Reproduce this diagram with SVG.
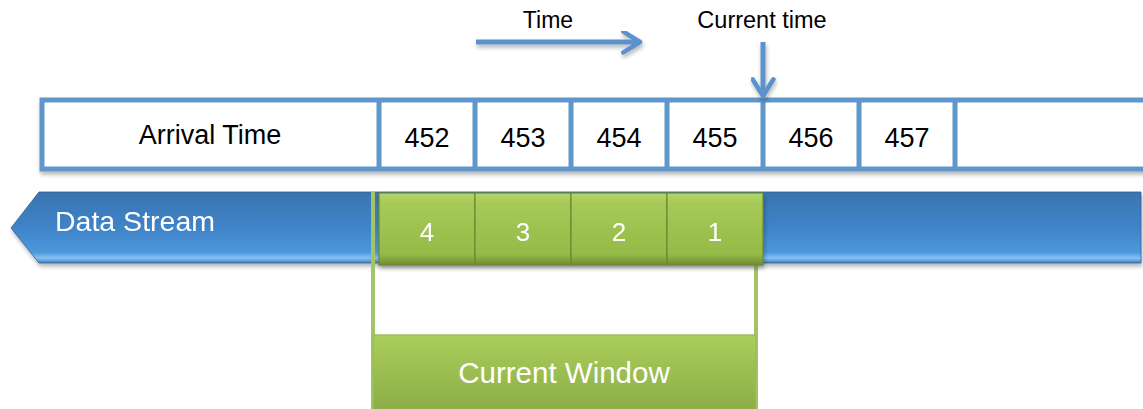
<svg xmlns="http://www.w3.org/2000/svg" width="1143" height="409" viewBox="0 0 1143 409">
<defs>
<linearGradient id="blue" x1="0" y1="0" x2="0" y2="1">
<stop offset="0" stop-color="#3a74b0"/>
<stop offset="0.5" stop-color="#3f84c8"/>
<stop offset="0.85" stop-color="#4e97da"/>
<stop offset="0.93" stop-color="#86c2f2"/>
<stop offset="1" stop-color="#3f7fbf"/>
</linearGradient>
<linearGradient id="green" x1="0" y1="0" x2="0" y2="1">
<stop offset="0" stop-color="#b5d66a"/>
<stop offset="0.15" stop-color="#a6c957"/>
<stop offset="0.85" stop-color="#96ba48"/>
<stop offset="1" stop-color="#6f8c32"/>
</linearGradient>
<linearGradient id="win" x1="0" y1="0" x2="0" y2="1">
<stop offset="0" stop-color="#abcd5b"/>
<stop offset="1" stop-color="#8cad47"/>
</linearGradient>
<filter id="sh" x="-5%" y="-20%" width="110%" height="150%">
<feGaussianBlur in="SourceAlpha" stdDeviation="2"/>
<feOffset dx="1" dy="3" result="b"/>
<feComponentTransfer><feFuncA type="linear" slope="0.3"/></feComponentTransfer>
<feMerge><feMergeNode/><feMergeNode in="SourceGraphic"/></feMerge>
</filter>
<marker id="chev" viewBox="0 0 12 12" refX="10" refY="6" markerWidth="5" markerHeight="5" orient="auto" markerUnits="strokeWidth">
<path d="M2,1 L10,6 L2,11" fill="none" stroke="#5b92cb" stroke-width="2.2" stroke-linecap="round" stroke-linejoin="round"/>
</marker>
<style>
.cell{fill:#fff;stroke:#6096cc;stroke-width:5}
.div{stroke:#6096cc;stroke-width:5}
.t{font-family:"Liberation Sans",Arial,sans-serif;text-anchor:middle}
.num{font-size:27px;fill:#000}
.blk{fill:url(#green);stroke:#6a8a30;stroke-width:1.2}
.w{fill:#fff}
.arr{stroke:#5b92cb;stroke-width:5;fill:none}
.gl{stroke:#a3c463;stroke-width:4}
</style>
</defs>

<g id="arrival-row" filter="url(#sh)">
<rect class="cell" x="42" y="100" width="1110" height="69"/>
<line class="div" x1="379" y1="100" x2="379" y2="169"/>
<line class="div" x1="475" y1="100" x2="475" y2="169"/>
<line class="div" x1="571" y1="100" x2="571" y2="169"/>
<line class="div" x1="667" y1="100" x2="667" y2="169"/>
<line class="div" x1="763" y1="100" x2="763" y2="169"/>
<line class="div" x1="859" y1="100" x2="859" y2="169"/>
<line class="div" x1="955" y1="100" x2="955" y2="169"/>
</g>
<g id="arrival-labels">
<text class="t num" x="210" y="144" font-size="28">Arrival Time</text>
<text class="t num" x="427" y="147">452</text>
<text class="t num" x="523" y="147">453</text>
<text class="t num" x="619" y="147">454</text>
<text class="t num" x="715" y="147">455</text>
<text class="t num" x="811" y="147">456</text>
<text class="t num" x="907" y="147">457</text>
</g>

<g id="data-stream" filter="url(#sh)">
<polygon points="39,192 1141,192 1141,263 39,263 11,228" fill="url(#blue)" stroke="#2f5f94" stroke-width="0.8"/>
<text class="t w" x="135" y="231" font-size="28.5">Data Stream</text>
</g>

<g id="window-lines">
<line class="gl" x1="373" y1="192" x2="373" y2="409"/>
<line class="gl" x1="756" y1="193" x2="756" y2="409"/>
</g>

<g id="current-window">
<rect x="373" y="335" width="383" height="76" fill="url(#win)" stroke="#9dbd5c" stroke-width="1.5"/>
<text class="t w" x="564" y="383" font-size="29.5">Current Window</text>
</g>

<g id="blocks" filter="url(#sh)">
<g id="b4"><rect class="blk" x="379" y="193" width="96" height="72"/><text class="t w" x="427" y="241" font-size="26">4</text></g>
<g id="b3"><rect class="blk" x="475" y="193" width="96" height="72"/><text class="t w" x="523" y="241" font-size="26">3</text></g>
<g id="b2"><rect class="blk" x="571" y="193" width="96" height="72"/><text class="t w" x="619" y="241" font-size="26">2</text></g>
<g id="b1"><rect class="blk" x="667" y="193" width="96" height="72"/><text class="t w" x="715" y="241" font-size="26">1</text></g>
</g>

<g id="time-label"><text class="t" x="548" y="28" font-size="23">Time</text></g>
<g id="current-time-label"><text class="t" x="762" y="28" font-size="23.5">Current time</text></g>

<g id="connectors" filter="url(#sh)">
<line class="arr" x1="476" y1="42" x2="640" y2="42" marker-end="url(#chev)"/>
<line class="arr" x1="763" y1="42" x2="763" y2="96" marker-end="url(#chev)"/>
</g>
</svg>
